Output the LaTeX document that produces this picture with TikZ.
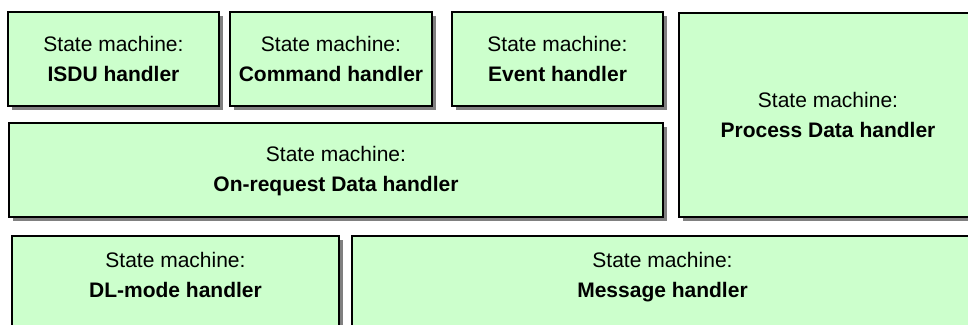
\documentclass[tikz,border=0pt]{standalone}
\usepackage{fontspec}
\setmainfont{Liberation Sans}
\definecolor{boxfill}{HTML}{CCFFCC}
\definecolor{shadowgray}{HTML}{808080}
\tikzset{
  boxshape/.style={fill=boxfill, draw=black, line width=1.1pt},
  boxshadow/.style={fill=shadowgray},
  boxlabel/.style={align=center, inner sep=0pt, font=\fontsize{15.75}{22.5}\selectfont}
}
\newcommand{\smbox}[7]{%
  \fill[boxshadow] (#1+4,#2+4) rectangle (#3+4,#4+4);
  \path[boxshape] (#1,#2) rectangle (#3,#4);
  \node[boxlabel] (#5) at (#6) {State machine:\\\textbf{#7}\vphantom{g}};
}
\begin{document}
\begin{tikzpicture}[x=0.75pt,y=-0.75pt]
\useasboundingbox (0,0) rectangle (968,325);
\clip (0,0) rectangle (968,325);
\fill[white] (0,0) rectangle (968,325);
\smbox{8}{12}{219}{106}{isdu}{113.5,61}{ISDU handler}
\smbox{230}{12}{432}{106}{cmd}{331,61}{Command handler}
\smbox{452}{12}{663}{106}{evt}{557.5,61}{Event handler}
\smbox{9}{123}{663}{217}{odr}{336,171}{On-request Data handler}
\smbox{679}{13}{977}{217}{pd}{828,117}{Process Data handler}
\smbox{12}{236}{339}{345}{dl}{175.5,277}{DL-mode handler}
\smbox{352}{236}{973}{345}{msg}{662.5,277}{Message handler}
\end{tikzpicture}
\end{document}
